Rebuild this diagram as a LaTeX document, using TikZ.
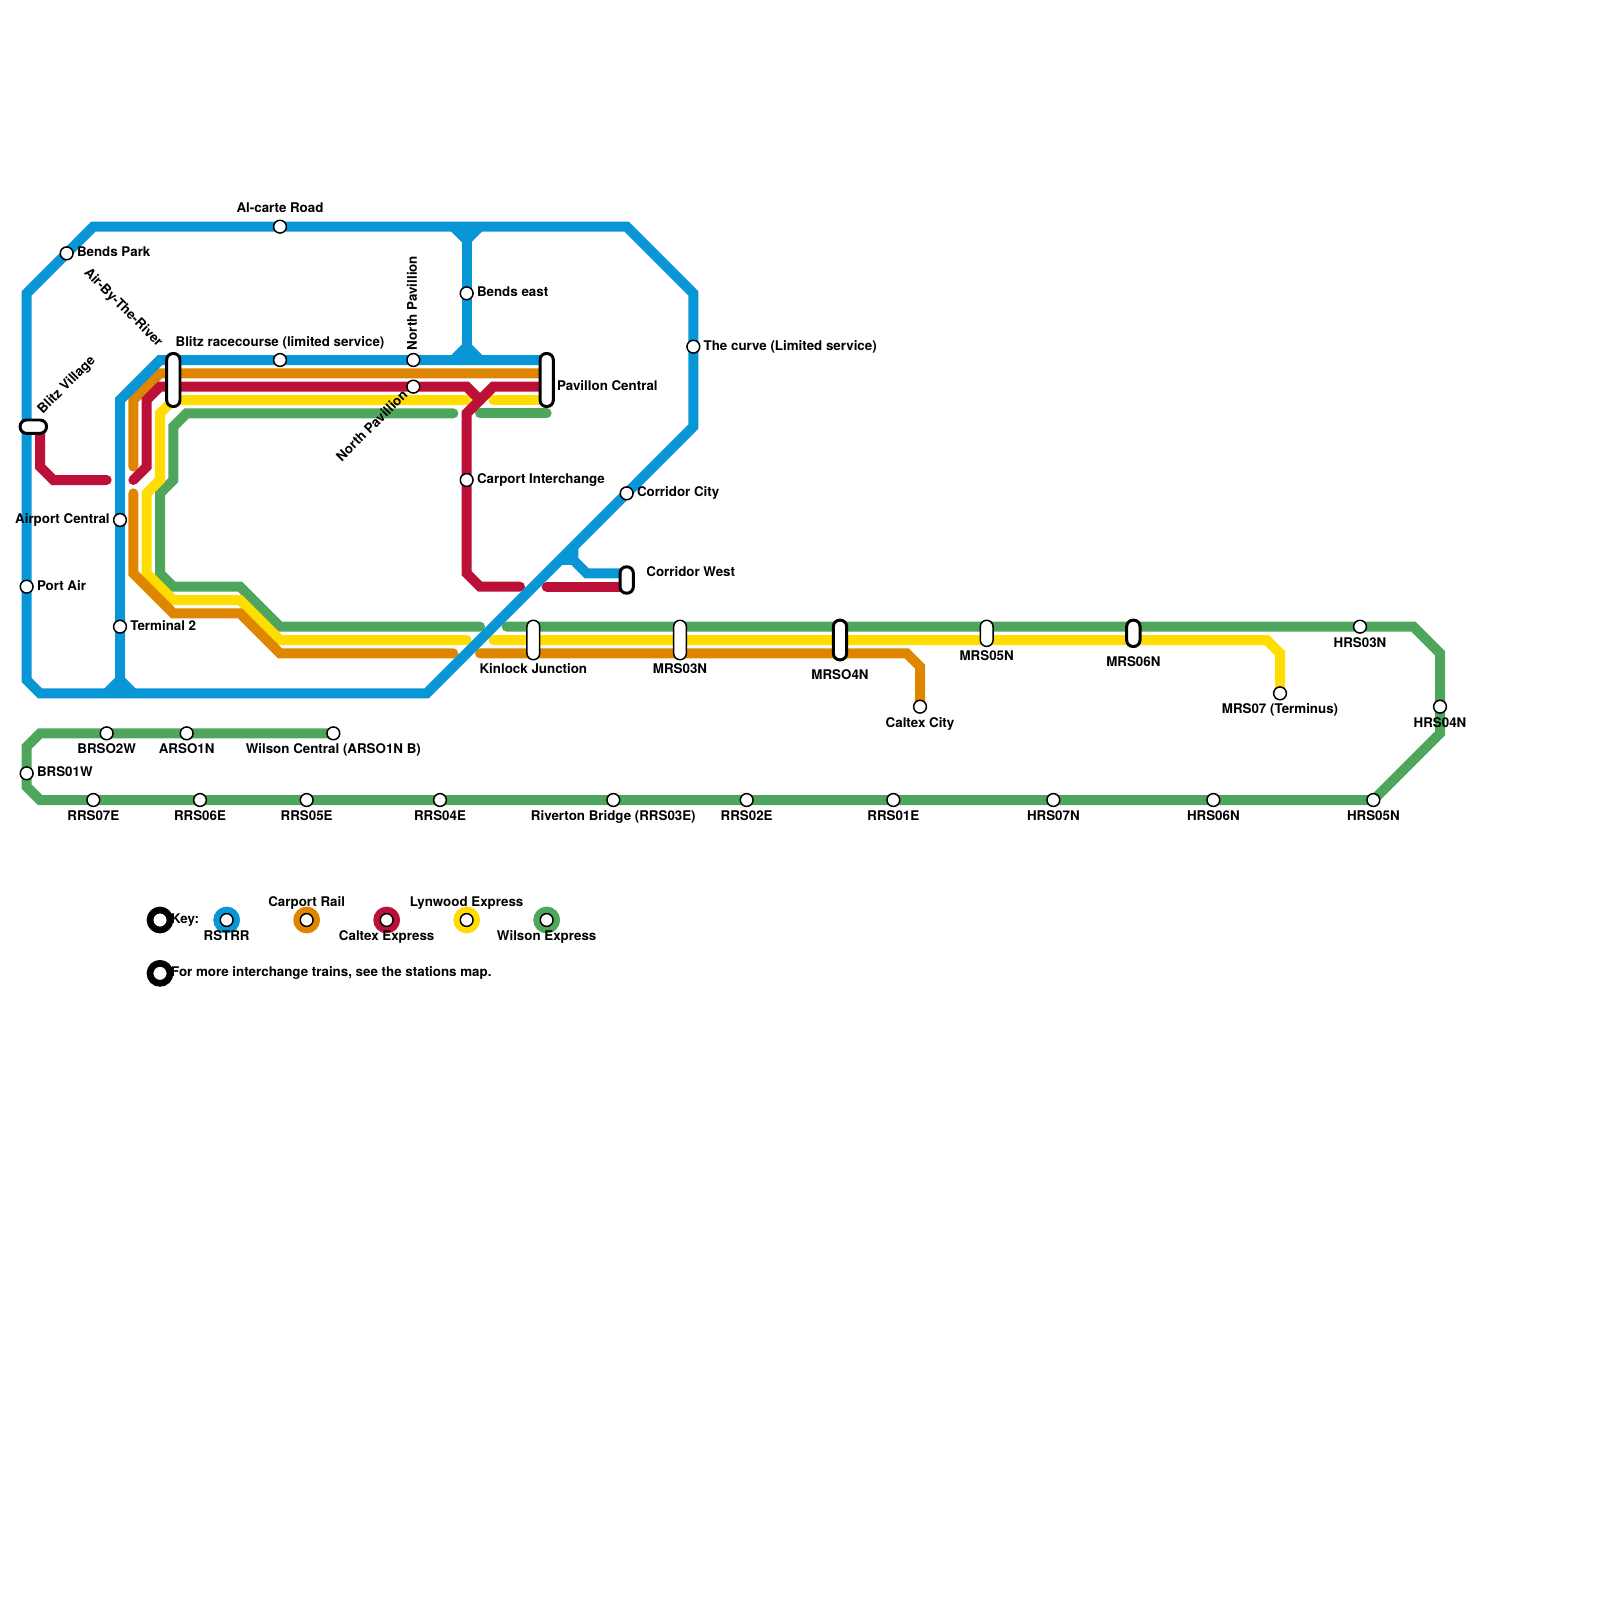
\documentclass[tikz,border=0pt]{standalone}
\usepackage{fontspec}
\setmainfont{TeX Gyre Heros}
\definecolor{rstrr}{HTML}{0896D7}
\definecolor{carport}{HTML}{DF8600}
\definecolor{caltex}{HTML}{BC1038}
\definecolor{lynwood}{HTML}{FFDD00}
\definecolor{wilson}{HTML}{4DA65B}
\tikzset{
  rail/.style={line width=1.875mm,line join=miter,line cap=round},
  lbl/.style={font=\bfseries\fontsize{7.12}{8}\selectfont,inner sep=0pt,text height=5.08pt,text depth=1.41pt},
  lbla/.style={lbl,yshift=2.0pt},
  lblb/.style={lbl,yshift=-1.86pt},
  lblr/.style={lbl,xshift=1.5pt},
  lbll/.style={lbl,xshift=-1.5pt},
  stn/.style={circle,draw=black,fill=white,line width=.28mm,minimum size=2.4mm,inner sep=0pt},
  halt/.style={rectangle,draw=black,fill=white,line width=.28mm,rounded corners=1.2mm,minimum width=2.4mm,inner sep=0pt},
  hub/.style={halt,line width=.56mm,minimum width=2.5mm},
  keyring/.style={circle,fill=white,line width=1.25mm,minimum size=3.75mm,inner sep=0pt}
}
\begin{document}
\begin{tikzpicture}[x=2.5mm,y=-2.5mm]
  \useasboundingbox (0,0) rectangle (120,120);

  \draw[rail,wilson] (34,31) -- (14,31) -- (13,32) -- (13,36) -- (12,37) -- (12,43) -- (13,44)
    -- (18,44) -- (21,47) -- (36,47);
  \draw[rail,wilson] (36,31) -- (41,31);
  \draw[rail,wilson] (38,47) -- (106,47) -- (108,49) -- (108,55) -- (103,60) -- (3,60) -- (2,59)
    -- (2,56) -- (3,55) -- (25,55);

  \draw[rail,lynwood] (35,30) -- (13,30) -- (12,31) -- (12,36) -- (11,37) -- (11,43) -- (13,45)
    -- (18,45) -- (21,48) -- (35,48);
  \draw[rail,lynwood] (37,30) -- (41,30);
  \draw[rail,lynwood] (37,48) -- (95,48) -- (96,49) -- (96,52);

  \draw[rail,carport] (10,35) -- (10,30) -- (12,28) -- (41,28);
  \draw[rail,carport] (10,37) -- (10,43) -- (13,46) -- (18,46) -- (21,49) -- (34,49);
  \draw[rail,carport] (36,49) -- (68,49) -- (69,50) -- (69,53);

  \draw[rail,caltex] (10,36) -- (11,35) -- (11,30) -- (12,29) -- (35,29) -- (36,30);
  \draw[rail,caltex] (41,29) -- (37,29) -- (35,31) -- (35,43) -- (36,44) -- (39,44);
  \draw[rail,caltex] (41,44) -- (47,44);
  \draw[rail,caltex] (3,32) -- (3,35) -- (4,36) -- (8,36);

  \draw[rail,rstrr,line cap=butt] (7,17) -- (47,17) -- (52,22) -- (52,32) -- (32,52) -- (3,52) -- (2,51)
    -- (2,22) -- cycle;
  \draw[rail,rstrr,line cap=butt] (9,52) -- (9,30) -- (12,27) -- (41,27);
  \draw[rail,rstrr,line cap=butt] (35,17) -- (35,27);
  \draw[rail,rstrr,line cap=butt] (34,17) -- (35,18) -- (36,17);
  \draw[rail,rstrr,line cap=butt] (34,27) -- (35,26) -- (36,27);
  \draw[rail,rstrr,line cap=butt] (8,52) -- (9,51) -- (10,52);
  \draw[rail,rstrr,line cap=butt] (43,41) -- (43,42) -- (44,43) -- (47,43);
  \draw[rail,rstrr,line cap=butt] (42,42) -- (43,42);

  \node[stn,label={[lbla]above:Al-carte Road}] (alcarte) at (21,17) {};
  \node[stn,label={[lblr]right:Bends Park}] (bendspark) at (5,19) {};
  \node[stn,label={[lbla]above:Blitz racecourse (limited service)}] (blitzrace) at (21,27) {};
  \node[stn] (northpavtop) at (31,27) {};
  \node[stn] (northpavlow) at (31,29) {};
  \node[stn,label={[lblr]right:Bends east}] (bendseast) at (35,22) {};
  \node[stn,label={[lblr]right:The curve (Limited service)}] (curve) at (52,26) {};
  \node[stn,label={[lblr]right:Carport Interchange}] (carportint) at (35,36) {};
  \node[stn,label={[lblr]right:Corridor City}] (corridorcity) at (47,37) {};
  \node[stn,label={[lbll]left:Airport Central}] (airport) at (9,39) {};
  \node[stn,label={[lblr]right:Port Air}] (portair) at (2,44) {};
  \node[stn,label={[lblr]right:Terminal 2}] (terminal) at (9,47) {};
  \node[stn,label={[lblb]below:Caltex City}] (caltexcity) at (69,53) {};
  \node[stn,label={[lblb]below:MRS07 (Terminus)}] (mrs07) at (96,52) {};
  \node[stn,label={[lblb]below:HRS03N}] (hrs03n) at (102,47) {};
  \node[stn,label={[lblb]below:HRS04N}] (hrs04n) at (108,53) {};
  \node[stn,label={[lblb]below:HRS05N}] (hrs05n) at (103,60) {};
  \node[stn,label={[lblb]below:HRS06N}] (hrs06n) at (91,60) {};
  \node[stn,label={[lblb]below:HRS07N}] (hrs07n) at (79,60) {};
  \node[stn,label={[lblb]below:RRS01E}] (rrs01e) at (67,60) {};
  \node[stn,label={[lblb]below:RRS02E}] (rrs02e) at (56,60) {};
  \node[stn,label={[lblb]below:Riverton Bridge (RRS03E)}] (riverton) at (46,60) {};
  \node[stn,label={[lblb]below:RRS04E}] (rrs04e) at (33,60) {};
  \node[stn,label={[lblb]below:RRS05E}] (rrs05e) at (23,60) {};
  \node[stn,label={[lblb]below:RRS06E}] (rrs06e) at (15,60) {};
  \node[stn,label={[lblb]below:RRS07E}] (rrs07e) at (7,60) {};
  \node[stn,label={[lblr]right:BRS01W}] (brs01w) at (2,58) {};
  \node[stn,label={[lblb]below:BRSO2W}] (brso2w) at (8,55) {};
  \node[stn,label={[lblb]below:ARSO1N}] (arso1n) at (14,55) {};
  \node[stn,label={[lblb]below:Wilson Central (ARSO1N B)}] (wilsoncentral) at (25,55) {};

  \node[hub,minimum width=4.95mm,minimum height=2.5mm] (blitzvillage) at (2.5,32) {};
  \node[hub,minimum height=9.95mm] (blitzhub) at (13,28.5) {};
  \node[hub,minimum height=9.95mm] (pavillon) at (41,28.5) {};
  \node[hub,minimum height=4.95mm] (corridorwest) at (47,43.5) {};
  \node[halt,minimum height=7.4mm,label={[lblb]below:Kinlock Junction}] (kinlock) at (40,48) {};
  \node[halt,minimum height=7.4mm,label={[lblb]below:MRS03N}] (mrs03n) at (51,48) {};
  \node[hub,minimum height=7.45mm,label={[lbl,yshift=-4.6pt]below:MRSO4N}] (mrso4n) at (63,48) {};
  \node[halt,minimum height=4.9mm,label={[lblb]below:MRS05N}] (mrs05n) at (74,47.5) {};
  \node[hub,minimum height=4.95mm,label={[lbl,yshift=-4.6pt]below:MRS06N}] (mrs06n) at (85,47.5) {};

  \node[lbl,rotate=45] (blitzvillagetxt) at (5.02,28.9) {Blitz Village};
  \node[lbl,rotate=-45] (airbytxt) at (9.22,23.1) {Air-By-The-River};
  \node[lbl,rotate=90] (northpavtxt) at (31,22.73) {North Pavillion};
  \node[lbl,rotate=45] (northpavdiag) at (27.95,32) {North Pavillion};
  \node[lbl,anchor=west] (pavillontxt) at (41.75,29) {Pavillon Central};
  \node[lbl,anchor=west] (corridorwesttxt) at (48.45,43) {Corridor West};

  \node[keyring,draw=black] (keymark) at (12,69) {};
  \node[keyring,draw=black] (notemark) at (12,73) {};
  \node[lbl,anchor=west] (keytxt) at (12.8,69) {Key:};
  \node[lbl,anchor=west] (notetxt) at (12.8,73) {For more interchange trains, see the stations map.};
  \node[keyring,draw=rstrr] (keyrstrr) at (17,69) {};
  \node[keyring,draw=carport] (keycarport) at (23,69) {};
  \node[keyring,draw=caltex] (keycaltex) at (29,69) {};
  \node[keyring,draw=lynwood] (keylynwood) at (35,69) {};
  \node[keyring,draw=wilson] (keywilson) at (41,69) {};
  \node[stn,label={[lblb]below:RSTRR}] (stnrstrr) at (keyrstrr) {};
  \node[stn,label={[lbla]above:Carport Rail}] (stncarport) at (keycarport) {};
  \node[stn,label={[lblb]below:Caltex Express}] (stncaltex) at (keycaltex) {};
  \node[stn,label={[lbla]above:Lynwood Express}] (stnlynwood) at (keylynwood) {};
  \node[stn,label={[lblb]below:Wilson Express}] (stnwilson) at (keywilson) {};
\end{tikzpicture}
\end{document}
